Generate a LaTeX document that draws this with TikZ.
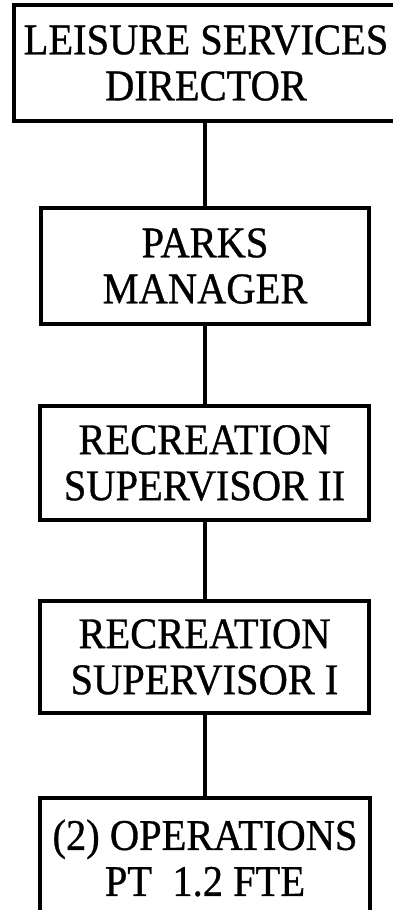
\documentclass[tikz,border=0pt]{standalone}
\usepackage{fontspec}
\usepackage{graphicx}
\setmainfont{Liberation Serif}[FakeBold=0.8]
% slightly taller capitals, as in the printed chart
\newcommand\tall[1]{\scalebox{1}[1.08]{#1}}
\begin{document}
\begin{tikzpicture}[x=1pt,y=-1pt,
  post/.style={draw, line width=3.2pt, inner sep=0pt, align=center,
    font=\fontsize{40.5}{46}\selectfont},
  link/.style={line width=3.4pt}]
\useasboundingbox (0,0) rectangle (393,910);
\clip (0,0) rectangle (393,910);
\fill[white] (0,0) rectangle (393,910);

\node[post, line width=4pt, minimum width=384pt, minimum height=116pt] (dir) at (206,63)
  {\tall{LEISURE SERVICES}\\\tall{DIRECTOR}};
\node[post, minimum width=328pt, minimum height=116pt] (pm) at (205,266)
  {\tall{PARKS}\\\tall{MANAGER}};
\node[post, minimum width=329pt, minimum height=114pt] (rs2) at (204.5,463)
  {\tall{RECREATION}\\\tall{SUPERVISOR II}};
\node[post, minimum width=329pt, minimum height=112pt] (rs1) at (204.5,657)
  {\tall{RECREATION}\\\tall{SUPERVISOR I}};
\node[post, minimum width=330pt, minimum height=120pt] (ops) at (205,858)
  {\tall{(2) OPERATIONS}\\\tall{PT\ \ 1.2 FTE}};

\draw[link] (dir.south -| pm.north) -- (pm.north);
\draw[link] (pm.south) -- (rs2.north -| pm.south);
\draw[link] (rs2.south -| pm.south) -- (rs1.north -| pm.south);
\draw[link] (rs1.south -| pm.south) -- (ops.north -| pm.south);
\end{tikzpicture}
\end{document}
